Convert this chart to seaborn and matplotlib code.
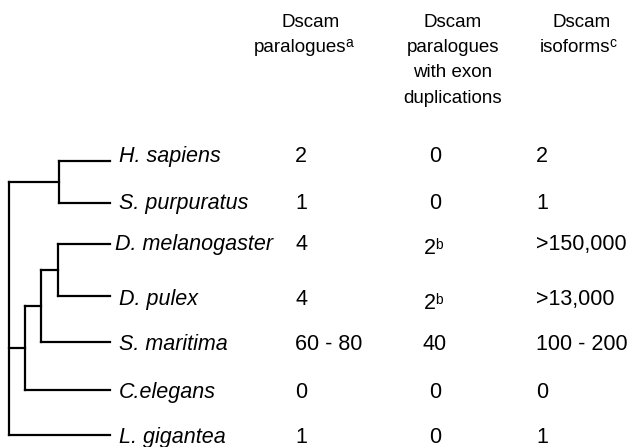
import matplotlib
matplotlib.use("Agg")
import matplotlib.pyplot as plt
import seaborn as sns
import pandas as pd

sns.set_theme(style="white")
plt.rcParams['font.family'] = ['Liberation Sans', 'DejaVu Sans']
plt.rcParams['text.color'] = 'black'

# ---- data ----
species = ["H. sapiens", "S. purpuratus", "D. melanogaster", "D. pulex",
           "S. maritima", "C.elegans", "L. gigantea"]
paralogues = ["2", "1", "4", "4", "60 - 80", "0", "1"]
exon_dup = ["0", "0", "2", "2", "40", "0", "0"]
exon_dup_sup = ["", "", "b", "b", "", "", ""]
isoforms = ["2", "1", ">150,000", ">13,000", "100 - 200", "0", "1"]
headers = [["Dscam", "paralogues"], ["Dscam", "paralogues", "with exon", "duplications"],
           ["Dscam", "isoforms"]]
header_sup = ["a", "", "c"]

# tree topology: internal node -> (x position, children)
tree = {
    "root": (9, ["HS", "PR", "L. gigantea"]),
    "HS": (59, ["H. sapiens", "S. purpuratus"]),
    "PR": (25, ["AR", "C.elegans"]),
    "AR": (41, ["DD", "S. maritima"]),
    "DD": (58, ["D. melanogaster", "D. pulex"]),
}

# ---- layout ----
W, H = 633, 447
leaf_y = [161, 203, 244, 296, 342, 390, 435]
text_y = [154, 201, 242, 297, 342, 390, 435]
leaf_x = 110
FS = 15.5           # body font size (pt)
HFS = 13.5          # header font size (pt)
cap_half = 0.358 * FS * 100 / 72

fig = plt.figure(figsize=(W / 100, H / 100), dpi=100)
ax = fig.add_axes([0, 0, 1, 1])

# build tree segments
ypos = {s: y for s, y in zip(species, leaf_y)}
segs = []


def node_y(n):
    if n in ypos:
        return ypos[n]
    x, ch = tree[n]
    ys = [node_y(c) for c in ch]
    ypos[n] = (ys[0] + ys[-1]) / 2
    return ypos[n]


sid = 0
for n, (x, ch) in tree.items():
    ys = [node_y(c) for c in ch]
    segs.append(dict(x=x, y=min(ys), seg=sid)); segs.append(dict(x=x, y=max(ys), seg=sid)); sid += 1
    for c in ch:
        cx = tree[c][0] if c in tree else leaf_x
        segs.append(dict(x=x, y=node_y(c), seg=sid)); segs.append(dict(x=cx, y=node_y(c), seg=sid)); sid += 1

df = pd.DataFrame(segs)
sns.lineplot(data=df, x="x", y="y", units="seg", estimator=None, sort=False,
             color="black", lw=1.6, ax=ax, solid_capstyle="projecting")
ax.set_xlim(0, W)
ax.set_ylim(H, 0)
ax.axis("off")

# species labels
for s, ty in zip(species, text_y):
    lx = 115 if s == "D. melanogaster" else 119
    ax.text(lx, ty + cap_half, s, fontsize=FS, style="italic", ha="left", va="baseline")

# values
for i, ty in enumerate(text_y):
    b = ty + cap_half
    ax.text(295, b, paralogues[i], fontsize=FS, ha="left", va="baseline")
    if exon_dup_sup[i]:
        t = ax.text(424, b + 4, exon_dup[i], fontsize=FS, ha="left", va="baseline")
        ax.annotate(exon_dup_sup[i], xy=(1, 1), xycoords=t, xytext=(-0.3, 0),
                    textcoords="offset points", fontsize=10, ha="left", va="top")
    else:
        ax.text(435, b, exon_dup[i], fontsize=FS, ha="center", va="baseline")
    ax.text(536, b, isoforms[i], fontsize=FS, ha="left", va="baseline")

# headers
hb = [27, 52, 77, 103]
col_cx = [311, 453, 582]
sup_left = [254, None, 540]
for j, lines in enumerate(headers):
    for k, line in enumerate(lines):
        if k == 1 and header_sup[j]:
            t = ax.text(sup_left[j], hb[k], line, fontsize=HFS, ha="left", va="baseline")
            ax.annotate(header_sup[j], xy=(1, 1), xycoords=t, xytext=(-0.5, 2.5),
                        textcoords="offset points", fontsize=10, ha="left", va="top")
        else:
            ax.text(col_cx[j], hb[k], line, fontsize=HFS, ha="center", va="baseline")

fig.savefig("out.png", dpi=100)
